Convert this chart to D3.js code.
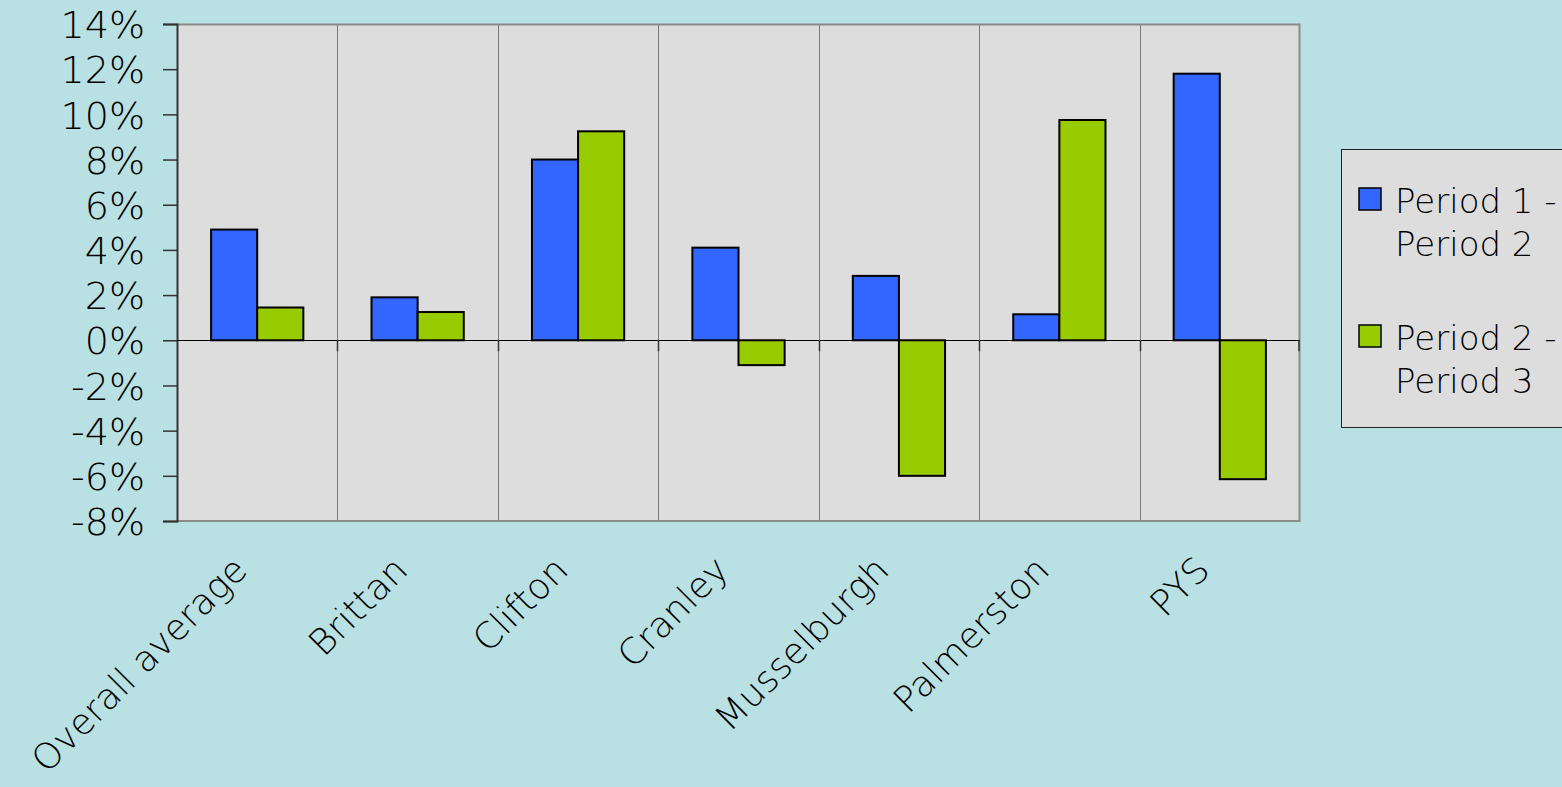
<!DOCTYPE html>
<html>
<head>
<meta charset="utf-8">
<script src="https://cdn.jsdelivr.net/npm/d3@7"></script>
<style>
  html, body { margin: 0; padding: 0; background: #b9e0e3; }
  svg { display: block; }
  text { font-family: "DejaVu Sans", sans-serif; fill: #000; font-weight: 200; }
</style>
</head>
<body>
<svg id="chart" width="1562" height="787"></svg>
<script>
// Categories, series and tick values
const categories = ["Overall average", "Brittan", "Clifton", "Cranley", "Musselburgh", "Palmerston", "PYS"];
const seriesNames = ["Period 1 -\nPeriod 2", "Period 2 -\nPeriod 3"];
const period1to2 = [4.9, 1.9, 8.0, 4.1, 2.85, 1.15, 11.8];
const period2to3 = [1.45, 1.25, 9.25, -1.1, -6.0, 9.75, -6.15];
const yTicks = [14, 12, 10, 8, 6, 4, 2, 0, -2, -4, -6, -8];
const colors = ["#3366ff", "#99cc00"];

const svg = d3.select("#chart");
const plot = { left: 177, top: 24, right: 1300, bottom: 521 };

const x = d3.scaleBand().domain(categories).range([plot.left, plot.right]).paddingInner(0).paddingOuter(0);
const y = d3.scaleLinear().domain([-8, 14]).range([plot.bottom, plot.top]);
const groupWidth = x.bandwidth() * 0.575;
const xs = d3.scaleBand().domain([0, 1]).range([0, groupWidth]);

// plot area background
svg.append("rect")
  .attr("x", plot.left).attr("y", plot.top)
  .attr("width", plot.right - plot.left).attr("height", plot.bottom - plot.top)
  .attr("fill", "#dddddd");

// category separators
svg.append("g").selectAll("line")
  .data(categories.slice(1))
  .join("line")
  .attr("x1", d => Math.round(x(d)) + 0.5).attr("x2", d => Math.round(x(d)) + 0.5)
  .attr("y1", plot.top).attr("y2", plot.bottom)
  .attr("stroke", "#7a7a7a").attr("stroke-width", 1);

// plot border (top, right, bottom)
svg.append("path")
  .attr("d", `M${plot.left},${plot.top + 0.5}H${plot.right - 0.5}V${plot.bottom}H${plot.left}`)
  .attr("fill", "none").attr("stroke", "#8a8a8a").attr("stroke-width", 2);

// bars
const rows = categories.map((c, i) => ({ c, v: [period1to2[i], period2to3[i]] }));
const groups = svg.append("g").selectAll("g")
  .data(rows).join("g")
  .attr("transform", d => `translate(${x(d.c) + (x.bandwidth() - groupWidth) / 2},0)`);
groups.selectAll("rect")
  .data(d => d.v.map((v, k) => ({ v, k })))
  .join("rect")
  .attr("x", d => xs(d.k))
  .attr("width", xs.bandwidth())
  .attr("y", d => y(Math.max(0, d.v)))
  .attr("height", d => Math.abs(y(d.v) - y(0)))
  .attr("fill", d => colors[d.k])
  .attr("stroke", "#000").attr("stroke-width", 2);

// y axis
const yAxis = d3.axisLeft(y).tickValues(yTicks).tickSize(14).tickPadding(18)
  .tickFormat(d => d + "%");
const gy = svg.append("g").attr("transform", `translate(${plot.left},0)`).call(yAxis);
gy.select(".domain").attr("stroke", "#333").attr("stroke-width", 2);
gy.selectAll(".tick line").attr("stroke", "#333").attr("stroke-width", 1.5);
gy.selectAll(".tick text").attr("font-size", 38).attr("font-family", "DejaVu Sans")
  .attr("font-weight", 200).attr("fill", "#000").attr("dy", "0.36em");

// zero line with category ticks
svg.append("line")
  .attr("x1", plot.left).attr("x2", plot.right)
  .attr("y1", Math.round(y(0)) + 0.5).attr("y2", Math.round(y(0)) + 0.5)
  .attr("stroke", "#000").attr("stroke-width", 1);
svg.append("g").selectAll("line")
  .data(categories.slice(1).concat(["__end"]))
  .join("line")
  .attr("x1", d => d === "__end" ? plot.right - 1 : Math.round(x(d)) + 0.5)
  .attr("x2", d => d === "__end" ? plot.right - 1 : Math.round(x(d)) + 0.5)
  .attr("y1", y(0)).attr("y2", y(0) + 11)
  .attr("stroke", "#333").attr("stroke-width", 1.5);

// category labels, rotated
svg.append("g").selectAll("text")
  .data(categories)
  .join("text")
  .attr("transform", d => `translate(${x(d) + x.bandwidth() / 2 - 8},${plot.bottom + 51}) rotate(-45)`)
  .attr("text-anchor", "end")
  .attr("font-size", 36)
  .text(d => d);

// legend
const legend = svg.append("g");
legend.append("rect")
  .attr("x", 1341.5).attr("y", 149.5).attr("width", 240).attr("height", 278)
  .attr("fill", "#dddddd").attr("stroke", "#222").attr("stroke-width", 1);
const entries = legend.selectAll("g").data(seriesNames).join("g")
  .attr("transform", (d, i) => `translate(1359,${188 + i * 137})`);
entries.append("rect")
  .attr("width", 22).attr("height", 22)
  .attr("fill", (d, i) => colors[i]).attr("stroke", "#000").attr("stroke-width", 1.5);
entries.append("text")
  .attr("x", 36).attr("y", 25)
  .attr("font-size", 34)
  .selectAll("tspan")
  .data(d => d.split("\n"))
  .join("tspan")
  .attr("x", 36).attr("dy", (d, i) => i === 0 ? 0 : 43)
  .text(d => d);
</script>
</body>
</html>
